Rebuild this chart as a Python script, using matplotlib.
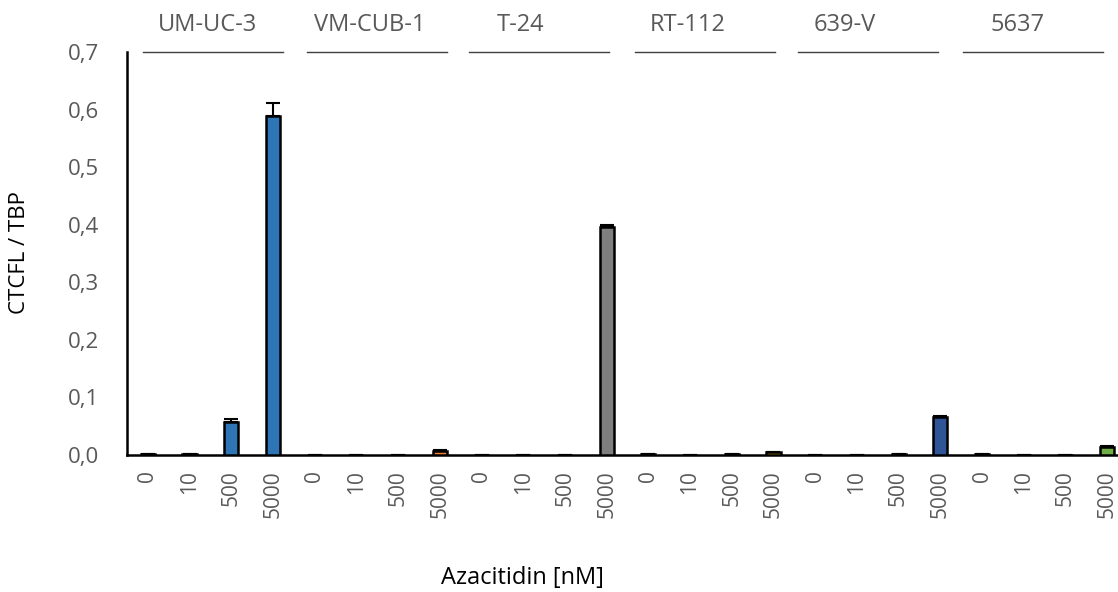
import matplotlib
matplotlib.use('Agg')
import matplotlib.pyplot as plt
import numpy as np
from matplotlib.ticker import FuncFormatter

cell_lines = ["UM-UC-3", "VM-CUB-1", "T-24", "RT-112", "639-V", "5637"]
doses = ["0", "10", "500", "5000"]
colors = ["#2E75B6", "#ED7D31", "#7F7F7F", "#C99A06", "#2F5597", "#70AD47"]

# CTCFL / TBP ratio per cell line, one value per dose
values = {
    "UM-UC-3": [0.001, 0.001, 0.057, 0.589],
    "VM-CUB-1": [0.0, 0.0, 0.0, 0.007],
    "T-24": [0.0, 0.0, 0.0, 0.396],
    "RT-112": [0.001, 0.0, 0.001, 0.005],
    "639-V": [0.0, 0.0, 0.001, 0.066],
    "5637": [0.001, 0.0, 0.0, 0.014],
}
errors = {
    "UM-UC-3": [0.0, 0.0, 0.005, 0.022],
    "VM-CUB-1": [0.0, 0.0, 0.0, 0.002],
    "T-24": [0.0, 0.0, 0.0, 0.003],
    "RT-112": [0.0, 0.0, 0.0, 0.001],
    "639-V": [0.0, 0.0, 0.0, 0.001],
    "5637": [0.0, 0.0, 0.0, 0.001],
}

# header layout in pixels: bracket start, bracket length, label centre
bracket_x0 = [143, 307, 469, 635, 798, 963]
bracket_len = 140
label_cx = [207, 370, 521, 688, 845, 1018]

plt.rcParams['font.family'] = ['Open Sans', 'DejaVu Sans']
TEXT = '#595959'

W, H = 1118, 592
fig = plt.figure(figsize=(W / 100, H / 100), dpi=100)
ax = fig.add_axes([127 / W, (H - 455) / H, (1128 - 127) / W, (455 - 52) / H])

tick_labels = []
for g, name in enumerate(cell_lines):
    xs = np.arange(4) + g * 4
    ax.bar(xs, values[name], width=0.34, color=colors[g], edgecolor='black',
           linewidth=1.8, zorder=3)
    ax.errorbar(xs, values[name], yerr=[np.zeros(4), errors[name]], fmt='none',
                ecolor='black', elinewidth=1.5, capsize=5, capthick=1.5, zorder=4)
    tick_labels += doses

    x0 = bracket_x0[g] / W
    x1 = (bracket_x0[g] + bracket_len) / W
    fig.add_artist(plt.Line2D([x0, x1], [1 - 52 / H] * 2, color='#404040', lw=1.0))
    fig.text(label_cx[g] / W, 1 - 25 / H, name, ha='center', va='center',
             fontsize=17, color=TEXT)

ax.set_xlim(-0.5, 23.5)
ax.set_ylim(0, 0.7)
ax.set_yticks(np.arange(0, 0.71, 0.1))
ax.yaxis.set_major_formatter(FuncFormatter(lambda v, p: f"{v:.1f}".replace('.', ',')))
ax.set_xticks(np.arange(24))
ax.set_xticklabels(tick_labels, rotation=90, fontsize=15, color=TEXT)
ax.tick_params(axis='x', length=0, pad=11)
ax.tick_params(axis='y', length=0, labelsize=16, labelcolor=TEXT, pad=20)

for s in ['top', 'right']:
    ax.spines[s].set_visible(False)
ax.spines['left'].set_linewidth(1.8)
ax.spines['bottom'].set_linewidth(1.8)

fig.text(20 / W, 1 - 253 / H, "CTCFL / TBP", rotation=90, ha='center', va='center',
         fontsize=16, color='black')
fig.text(522 / W, 1 - 578 / H, "Azacitidin [nM]", ha='center', va='center',
         fontsize=17, color='black')

fig.savefig('out.png', dpi=100)
